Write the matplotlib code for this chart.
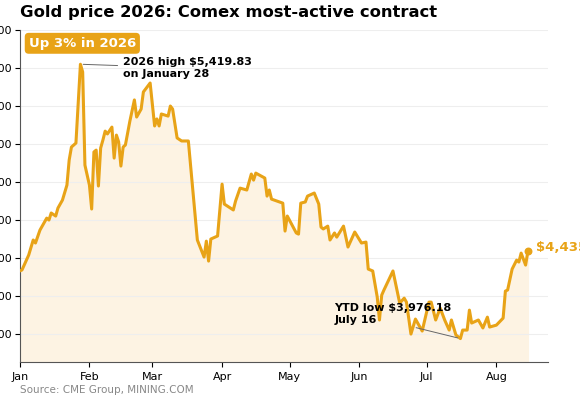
import matplotlib
matplotlib.use("Agg")
import matplotlib.pyplot as plt
import matplotlib.dates as mdates
import numpy as np

GOLD = "#E8A317"
FILL = "#FDF3E3"

# day offset from Jan 1 2026, price in USD
days = [0, 1, 4, 6, 7, 9, 12, 13, 14, 16, 17, 19, 21, 22, 23, 25, 27, 28, 29, 31,
        32, 33, 34, 35, 36, 37, 38, 39, 41, 42, 43, 44, 45, 46, 47, 49, 51, 52, 54, 55,
        58, 60, 61, 62, 63, 66, 67, 68, 70, 72, 75, 79, 82, 83, 84, 85, 88, 90, 91, 95,
        96, 98, 101, 103, 104, 105, 109, 110, 111, 112, 117, 118, 119, 123, 124, 125, 127, 128, 131, 133,
        134, 135, 137, 138, 140, 141, 144, 146, 149, 152, 154, 155, 157, 159, 160, 161, 162, 166, 169, 171,
        172, 174, 176, 179, 182, 183, 185, 187, 189, 191, 192, 194, 196, 197, 199, 200, 201, 204, 206, 208,
        209, 212, 215, 216, 217, 219, 221, 222, 223, 225, 226]
prices = [4332, 4337, 4416, 4495, 4479, 4547, 4610, 4600, 4637, 4621, 4663, 4705, 4784, 4916, 4984, 5005, 5419.83, 5379, 4889, 4784,
          4658, 4958, 4968, 4779, 4979, 5021, 5068, 5053, 5089, 4926, 5047, 5011, 4884, 4984, 4995, 5121, 5232, 5142, 5184, 5274,
          5321, 5095, 5132, 5095, 5158, 5147, 5200, 5184, 5032, 5016, 5016, 4495, 4405, 4489, 4384, 4500, 4516, 4789, 4684, 4653,
          4700, 4768, 4758, 4842, 4810, 4847, 4821, 4726, 4758, 4710, 4689, 4542, 4621, 4532, 4526, 4689, 4695, 4726, 4742, 4684,
          4563, 4553, 4568, 4495, 4532, 4510, 4568, 4458, 4537, 4479, 4484, 4342, 4332, 4195, 4074, 4205, 4232, 4332, 4163, 4189,
          4168, 4000, 4079, 4016, 4168, 4168, 4074, 4137, 4074, 4021, 4074, 3995, 3976.18, 4021, 4021, 4126, 4058, 4074, 4032, 4089,
          4037, 4047, 4084, 4226, 4232, 4342, 4389, 4379, 4426, 4363, 4435]

dates = np.datetime64("2026-01-01") + np.array(days).astype("timedelta64[D]")
yticks = [4000, 4200, 4400, 4600, 4800, 5000, 5200, 5400, 5600]

fig = plt.figure(figsize=(5.8, 4), dpi=100)
ax = fig.add_axes([0.034, 0.095, 0.911, 0.83])
ax.fill_between(dates, prices, 3853, color=FILL, zorder=1)
ax.plot(dates, prices, color=GOLD, lw=2.2, zorder=3)
ax.scatter([dates[-1]], [prices[-1]], color=GOLD, s=22, zorder=4)

ax.set_ylim(3853, 5600)
ax.set_xlim(np.datetime64("2026-01-01"), np.datetime64("2026-08-24"))
ax.set_yticks(yticks)
ax.set_yticklabels([f"{v:,}" for v in yticks], fontsize=8)
ax.tick_params(axis="y", pad=2)
ax.xaxis.set_major_locator(mdates.MonthLocator())
ax.xaxis.set_major_formatter(mdates.DateFormatter("%b"))
ax.tick_params(axis="x", labelsize=8)
ax.grid(axis="y", color="#eeeeee", lw=0.8, zorder=0)
for s in ["top", "right"]:
    ax.spines[s].set_visible(False)
for s in ["left", "bottom"]:
    ax.spines[s].set_color("#555555")

fig.text(0.034, 0.968, "Gold price 2026: Comex most-active contract", fontsize=11.8,
         fontweight="bold", va="center")
fig.text(0.034, 0.025, "Source: CME Group, MINING.COM", fontsize=7.5, color="#888888", va="center")

ax.text(np.datetime64("2026-01-05"), 5530, "Up 3% in 2026", color="white", fontsize=9.5,
        fontweight="bold", va="center", zorder=6,
        bbox=dict(boxstyle="round,pad=0.3", fc=GOLD, ec="none"))

ax.annotate("2026 high $5,419.83\non January 28", xy=(dates[16], prices[16]),
            xytext=(np.datetime64("2026-02-16"), 5400), fontsize=8, fontweight="bold",
            va="center", arrowprops=dict(arrowstyle="-", color="#666666", lw=0.7))
ax.annotate("YTD low $3,976.18\nJuly 16", xy=(dates[112], prices[112]),
            xytext=(np.datetime64("2026-05-21"), 4105), fontsize=8, fontweight="bold",
            va="center", zorder=6, arrowprops=dict(arrowstyle="-", color="#666666", lw=0.7,
                                                   shrinkA=0, relpos=(0.6, 0)))
ax.annotate("$4,435", xy=(dates[-1], prices[-1]), xytext=(6, 3), textcoords="offset points",
            color=GOLD, fontsize=9.5, fontweight="bold", va="center", annotation_clip=False)

fig.savefig("out.png", dpi=100)
